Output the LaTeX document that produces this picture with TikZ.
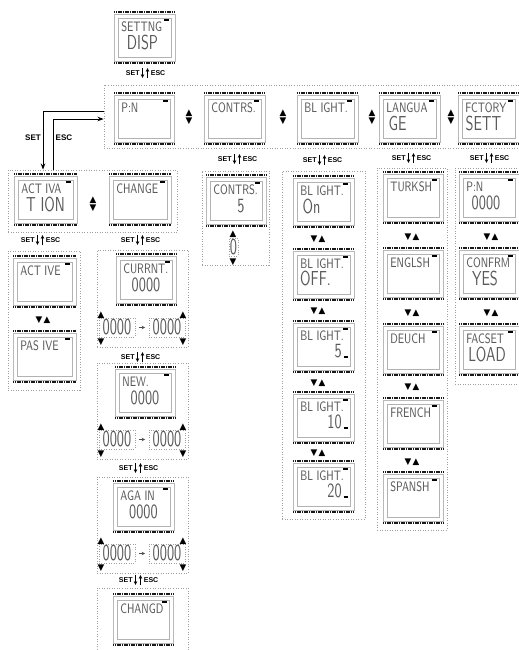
\documentclass[tikz,border=0pt]{standalone}
\usepackage{fontspec}
\usepackage{graphicx}
\usepackage{tikz}
\usetikzlibrary{arrows.meta, positioning, calc, fit}
\newfontfamily\symfont{DejaVu Sans}
\newfontfamily\keyfont{Liberation Sans}

\newcommand{\lcdA}[1]{\scalebox{0.72}[1]{\fontsize{7.8}{7.8}\selectfont #1}}
\newcommand{\lcdB}[1]{\scalebox{0.72}[1]{\fontsize{11.5}{11.5}\selectfont #1}}
\newcommand{\lcdC}[1]{\scalebox{0.64}[1]{\fontsize{13}{13}\selectfont #1}}

\newcommand{\lcd}[5]{%
  \node[lcdframe, fit={(#2+1,#3+3) (#2+#4-1,#3+50)}] (#1) {};
  \draw[lcdbar] (#2+1,#3+1) -- (#2+#4-1,#3+1);
  \draw[lcdbar] (#2+1,#3+52) -- (#2+#4-1,#3+52);
  \draw[lcdin] (#2+5,#3+7) rectangle (#2+#4-5,#3+46);
  \draw[lcdmark] (#2+#4-12,#3+9) -- (#2+#4-7,#3+9);
  \node[lcdtext] (#1a) at (#2+8,#3+11) {\lcdA{#5}};
}

\newcommand{\keypair}[3]{%
  \node[keylbl, anchor=east] (#1s) at (#2-5,#3) {SET};
  \node[keylbl, anchor=west] (#1e) at (#2+5.5,#3) {ESC};
  \draw[keyarr] (#2-2.5,#3-5) -- (#2-2.5,#3+5);
  \draw[keyarr] (#2+2.5,#3+5) -- (#2+2.5,#3-5);
}

\newcommand{\digrow}[3]{%
  \node[digbox, fit={(#2,#3) (#2+36,#3+19)}] (#1l) {};
  \node[digbox, fit={(#2+50,#3) (#2+86,#3+19)}] (#1r) {};
  \node[lcddig] (#1lt) at (#1l) {\lcdC{0000}};
  \node[lcddig] (#1rt) at (#1r) {\lcdC{0000}};
  \draw[digarr] (#1l) -- (#1r);
  \node[tri] (#1a) at (#2+2,#3-4) {▲};
  \node[tri] (#1b) at (#2+2,#3+23) {▼};
  \node[tri] (#1c) at (#2+84,#3-4) {▲};
  \node[tri] (#1d) at (#2+84,#3+23) {▼};
}

\begin{document}
\begin{tikzpicture}[x=0.02cm, y=-0.02cm,
  lcdframe/.style={draw=gray!55, line width=0.35pt, inner sep=0pt},
  lcdbar/.style={line width=1.5pt, dash pattern=on 0.7pt off 0.3pt, black!90},
  lcdin/.style={draw=gray!60, line width=0.35pt},
  lcdmark/.style={line width=1.1pt, black},
  lcdtext/.style={anchor=north west, inner sep=0pt, text height=5.4pt, text depth=0pt, font=\sffamily, text=black!65},
  lcdnum/.style={inner sep=0pt, text height=7.6pt, text depth=0pt, font=\sffamily, text=black!65},
  lcddig/.style={inner sep=0pt, text height=8.5pt, text depth=0pt, font=\sffamily, text=black!65},
  grp/.style={draw=gray!75, densely dotted, line width=0.45pt, inner sep=0pt},
  digbox/.style={draw=gray!75, densely dotted, line width=0.4pt, inner sep=0pt},
  keylbl/.style={font=\keyfont\bfseries\fontsize{4}{4}\selectfont, inner sep=0pt},
  keyarr/.style={-{Stealth[length=2.2pt,width=2pt]}, line width=0.5pt},
  tri/.style={font=\symfont\fontsize{5}{5}\selectfont, inner sep=0pt, text height=3.5pt, text depth=0pt},
  conn/.style={-{Stealth[length=3.5pt,width=2.6pt]}, line width=0.5pt},
  digarr/.style={-{Stealth[length=2pt,width=2pt]}, line width=0.5pt, black!70, shorten <=2pt, shorten >=2pt}]
\useasboundingbox (0,0) rectangle (519,650);

\lcd{setdisp}{113}{11}{63}{SETTNG}
\node[lcdnum] (setdispb) at ($(setdisp)+(-2,5)$) {\lcdB{DISP}};
\keypair{k0}{145}{73}

\node[grp, fit={(104,85) (522,148)}] (rowbox) {};
\lcd{pin}{113}{92}{62}{P:N}
\lcd{contrs}{203}{92}{63}{CONTRS.}
\lcd{blight}{296}{92}{63}{BL IGHT.}
\lcd{langue}{378}{92}{63}{LANGUA}
\node[lcdnum] (langueb) at ($(langue)+(-12,5)$) {\lcdB{GE}};
\lcd{fctory}{457}{92}{63}{FCTORY}
\node[lcdnum] (fctoryb) at ($(fctory)+(-5,5)$) {\lcdB{SETT}};
\node[tri] (ud1a) at (189,112) {▲};
\node[tri] (ud1b) at (189,120) {▼};
\node[tri] (ud2a) at (283,112) {▲};
\node[tri] (ud2b) at (283,120) {▼};
\node[tri] (ud3a) at (372,112) {▲};
\node[tri] (ud3b) at (372,120) {▼};
\node[tri] (ud4a) at (451,112) {▲};
\node[tri] (ud4b) at (451,120) {▼};

\keypair{k1}{237}{159}
\keypair{k2}{322}{160}
\keypair{k3}{411}{158}
\keypair{k4}{489}{158}

\node[grp, fit={(202,171) (269,265)}] (contrsbox) {};
\lcd{contrsv}{205}{174}{62}{CONTRS.}
\node[lcdnum] (contrsvb) at ($(contrsv)+(5,5)$) {\lcdB{5}};
\node[digbox, fit={(229,238) (238,256)}] (contrsd) {};
\node[lcddig] (contrsdt) at (contrsd) {\lcdC{0}};
\node[tri] (cdu) at (233,233) {▲};
\node[tri] (cdd) at (233,261) {▼};

\node[grp, fit={(282,171) (365,519)}] (blbox) {};
\lcd{blon}{292}{175}{63}{BL IGHT.}
\node[lcdnum] (blonb) at ($(blon)+(-12,5)$) {\lcdB{On}};
\lcd{bloff}{292}{248}{63}{BL IGHT.}
\node[lcdnum] (bloffb) at ($(bloff)+(-8,4)$) {\lcdB{OFF.}};
\lcd{blfive}{292}{320}{63}{BL IGHT.}
\node[lcdnum, anchor=east] (blfiveb) at (342,351) {\lcdB{5}};
\lcd{blten}{292}{391}{63}{BL IGHT.}
\node[lcdnum, anchor=east] (bltenb) at (342,422) {\lcdB{10}};
\lcd{bltwenty}{292}{460}{63}{BL IGHT.}
\node[lcdnum, anchor=east] (bltwentyb) at (342,491) {\lcdB{20}};
\draw[lcdmark, line width=0.8pt] ($(blfiveb.south east)+(1.5,-1)$) -- ++(4,0);
\draw[lcdmark, line width=0.8pt] ($(bltenb.south east)+(1.5,-1)$) -- ++(4,0);
\draw[lcdmark, line width=0.8pt] ($(bltwentyb.south east)+(1.5,-1)$) -- ++(4,0);
\node[tri] (bt1) at (318,238) {▼\,▲};
\node[tri] (bt2) at (318,310) {▼\,▲};
\node[tri] (bt3) at (318,382) {▼\,▲};
\node[tri] (bt4) at (318,452) {▼\,▲};

\node[grp, fit={(377,168) (447,530)}] (lgbox) {};
\lcd{turksh}{382}{171}{62}{TURKSH}
\lcd{englsh}{382}{247}{62}{ENGLSH}
\lcd{deuch}{382}{323}{62}{DEUCH}
\lcd{french}{382}{397}{62}{FRENCH}
\lcd{spansh}{382}{471}{62}{SPANSH}
\node[tri] (lt1) at (412,236) {▼\,▲};
\node[tri] (lt2) at (412,312) {▼\,▲};
\node[tri] (lt3) at (412,386) {▼\,▲};
\node[tri] (lt4) at (412,461) {▼\,▲};

\node[grp, fit={(455,168) (522,384)}] (fcbox) {};
\lcd{pinset}{458}{171}{62}{P:N}
\node[lcdnum] (pinsetb) at ($(pinset)+(-3,5)$) {\lcdB{0000}};
\lcd{confrm}{458}{247}{62}{CONFRM}
\node[lcdnum] (confrmb) at ($(confrm)+(-4,5)$) {\lcdB{YES}};
\lcd{facset}{458}{323}{62}{FACSET}
\node[lcdnum] (facsetb) at ($(facset)+(-2,5)$) {\lcdB{LOAD}};
\node[tri] (ft1) at (491,236) {▼\,▲};
\node[tri] (ft2) at (491,312) {▼\,▲};

\node[grp, fit={(8,170) (177,232)}] (actbox) {};
\lcd{activ}{13}{173}{65}{ACT IVA}
\node[lcdnum] (activb) at ($(activ)+(0,5)$) {\lcdB{T ION}};
\lcd{change}{108}{173}{64}{CHANGE}
\node[tri] (ud5a) at (93,199) {▲};
\node[tri] (ud5b) at (93,207) {▼};

\coordinate (setc) at (43,111);
\coordinate (escc) at (53,119);
\draw[conn] (rowbox.west |- setc) -- (setc) -- (actbox.north -| setc);
\draw[conn] (actbox.north -| escc) -- (escc) -- (rowbox.west |- escc);
\node[keylbl, font=\keyfont\bfseries\fontsize{4.6}{5}\selectfont] (setlbl) at (33,138) {SET};
\node[keylbl, font=\keyfont\bfseries\fontsize{4.6}{5}\selectfont] (esclbl) at (64,138) {ESC};

\keypair{k5}{40}{240}
\keypair{k6}{140}{240}

\node[grp, fit={(8,251) (80,390)}] (actvbox) {};
\lcd{active}{12}{255}{65}{ACT IVE}
\lcd{pasive}{12}{330}{65}{PAS IVE}
\node[tri] (at1) at (43,319) {▼\,▲};

\node[grp, fit={(97,250) (188,347)}] (curbox) {};
\lcd{currnt}{115}{253}{62}{CURRNT.}
\node[lcdnum] (currntb) at ($(currnt)+(0,5)$) {\lcdB{0000}};
\digrow{curd}{99}{318}
\keypair{k7}{140}{357}

\node[grp, fit={(97,363) (188,459)}] (newbox) {};
\lcd{newpin}{114}{366}{62}{NEW.}
\node[lcdnum] (newpinb) at ($(newpin)+(0,5)$) {\lcdB{0000}};
\digrow{newd}{99}{430}
\keypair{k8}{138}{468}

\node[grp, fit={(97,477) (188,573)}] (agbox) {};
\lcd{again}{112}{480}{63}{AGA IN}
\node[lcdnum] (againb) at ($(again)+(0,5)$) {\lcdB{0000}};
\digrow{agd}{99}{544}
\keypair{k9}{138}{580}

\node[grp, fit={(97,588) (188,656)}] (chbox) {};
\lcd{changd}{112}{593}{62}{CHANGD}
\end{tikzpicture}
\end{document}
